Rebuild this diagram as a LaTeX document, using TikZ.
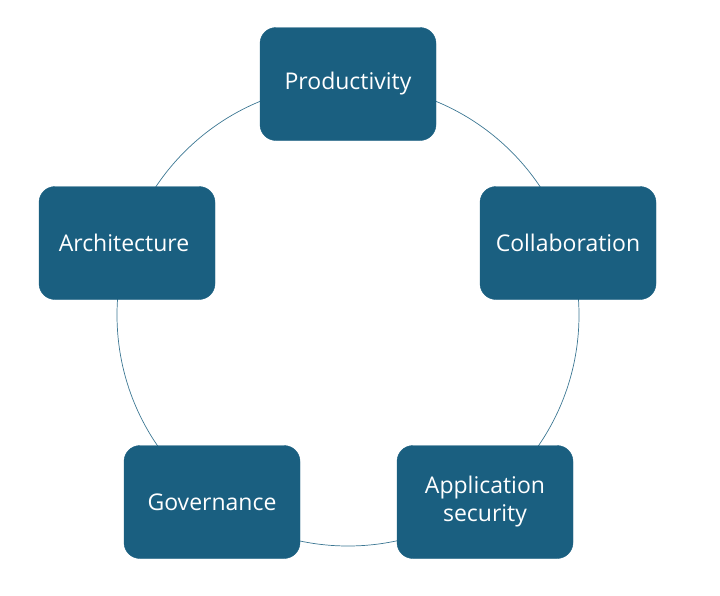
\documentclass[tikz,border=0pt]{standalone}
\usepackage{fontspec}
\setmainfont{Open Sans}
\definecolor{boxblue}{HTML}{1A5F80}
\begin{document}
\begin{tikzpicture}[x=1pt,y=-1pt,
area/.style={draw=boxblue, fill=boxblue, rounded corners=16pt, minimum width=176pt, minimum height=113pt, text=white, align=center, font=\fontsize{23}{28}\selectfont},
ring/.style={draw=boxblue!85, line width=0.7pt}]

\useasboundingbox (0,0) rectangle (720,595);

\coordinate (Centre) at (348,315);

\draw [ring] (Centre) circle (231);

\foreach \n/\p/\t in
{ productivity/{(348,84)}/Productivity,
    collaboration/{(568,243)}/Collaboration,
    appsecurity/{(485,502)}/{Application\\security},
    governance/{(212,502)}/Governance,
    architecture/{(127,243)}/Architecture
}
{
    \node[area] (\n) at \p {\t};
};

\end{tikzpicture}
\end{document}
